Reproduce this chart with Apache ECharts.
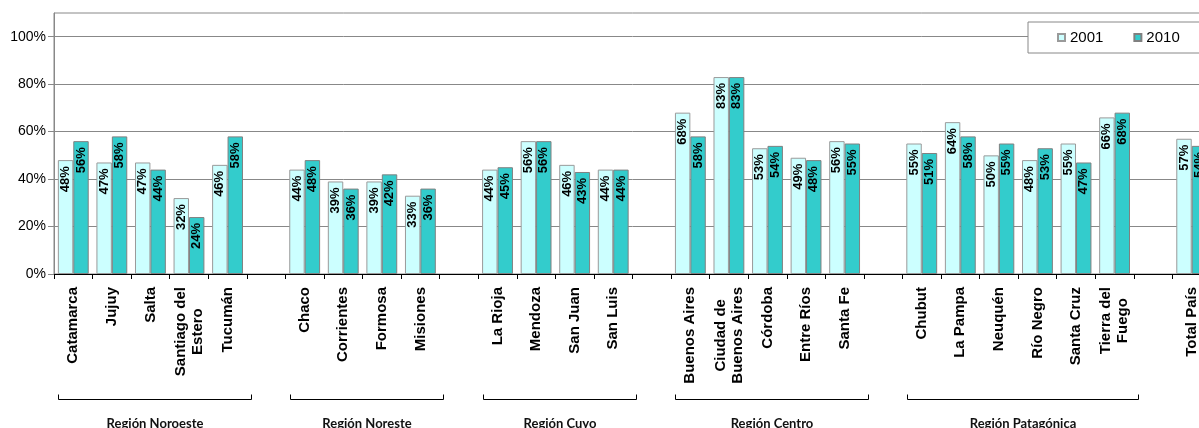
<!DOCTYPE html>
<html>
<head>
<meta charset="utf-8">
<script src="https://cdn.jsdelivr.net/npm/echarts@6/dist/echarts.min.js"></script>
<style>
  html, body { margin: 0; padding: 0; background: #fff; overflow: hidden; width: 1199px; height: 428px; }
  #chart { width: 1212px; height: 428px; }
</style>
</head>
<body>
<div id="chart"></div>
<script>
// Provinces grouped by region; empty strings leave a gap between regions.
const categories = [
  'Catamarca', 'Jujuy', 'Salta', 'Santiago del\nEstero', 'Tucumán', '',
  'Chaco', 'Corrientes', 'Formosa', 'Misiones', '',
  'La Rioja', 'Mendoza', 'San Juan', 'San Luis', '',
  'Buenos Aires', 'Ciudad de\nBuenos Aires', 'Córdoba', 'Entre Ríos', 'Santa Fe', '',
  'Chubut', 'La Pampa', 'Neuquén', 'Río Negro', 'Santa Cruz', 'Tierra del\nFuego', '',
  'Total País'
];

const values2001 = [
  48, 47, 47, 32, 46, null,
  44, 39, 39, 33, null,
  44, 56, 46, 44, null,
  68, 83, 53, 49, 56, null,
  55, 64, 50, 48, 55, 66, null,
  57
];

const values2010 = [
  56, 58, 44, 24, 58, null,
  48, 36, 42, 36, null,
  45, 56, 43, 44, null,
  58, 83, 54, 48, 55, null,
  51, 58, 55, 53, 47, 68, null,
  54
];

const seriesNames = ['2001', '2010'];
const yTicks = [0, 20, 40, 60, 80, 100];

// Region brackets below the axis: name, first and last province.
const regionNames = ['Región Noroeste', 'Región Noreste', 'Región Cuyo', 'Región Centro', 'Región Patagónica'];
const regionFirst = ['Catamarca', 'Chaco', 'La Rioja', 'Buenos Aires', 'Chubut'];
const regionLast = ['Tucumán', 'Misiones', 'San Luis', 'Santa Fe', 'Tierra del\nFuego'];

const FONT = '"Liberation Sans", Arial, sans-serif';
const chart = echarts.init(document.getElementById('chart'), null, { renderer: 'canvas' });

function barLabel() {
  return {
    show: true,
    position: 'insideTop',
    rotate: 90,
    align: 'right',
    verticalAlign: 'middle',
    distance: 6,
    formatter: p => p.value + '%',
    color: '#000',
    fontFamily: FONT,
    fontWeight: 'bold',
    fontSize: 13
  };
}

chart.setOption({
  animation: false,
  backgroundColor: '#fff',
  grid: {
    left: 54, top: 13, right: 1, height: 261,
    show: true, borderColor: '#888', borderWidth: 1, backgroundColor: '#fff'
  },
  legend: {
    data: seriesNames,
    left: 1028, top: 22,
    orient: 'horizontal',
    backgroundColor: '#fff',
    borderColor: '#888',
    borderWidth: 1,
    padding: [8, 24, 8, 29],
    itemWidth: 7, itemHeight: 7, itemGap: 30,
    icon: 'rect',
    textStyle: { fontFamily: FONT, fontSize: 15, color: '#000' }
  },
  xAxis: {
    type: 'category',
    data: categories,
    boundaryGap: true,
    axisLine: { lineStyle: { color: '#000', width: 1 } },
    axisTick: { show: true, interval: 0, length: 5, lineStyle: { color: '#000' } },
    axisLabel: {
      interval: 0,
      rotate: 90,
      margin: 13,
      color: '#000',
      fontFamily: FONT,
      fontWeight: 'bold',
      fontSize: 15,
      lineHeight: 17,
      formatter: v => v ? v.split('\n').map(s => '{c|' + s + '}').join('\n') : '',
      rich: {
        c: { align: 'center', fontFamily: FONT, fontWeight: 'bold', fontSize: 15, lineHeight: 17, color: '#000' }
      }
    },
    splitLine: { show: false }
  },
  yAxis: {
    type: 'value',
    min: 0, max: 110, interval: 20,
    axisLine: { show: true, lineStyle: { color: '#888' } },
    axisTick: { show: true, length: 6, lineStyle: { color: '#888' }, customValues: yTicks },
    axisLabel: {
      margin: 8,
      color: '#000',
      fontFamily: FONT,
      fontSize: 14,
      customValues: yTicks,
      formatter: v => v + '%'
    },
    splitLine: { show: true, lineStyle: { color: '#888', width: 1 } }
  },
  series: [
    {
      name: seriesNames[0],
      type: 'bar',
      data: values2001,
      barGap: '0%',
      barCategoryGap: '20%',
      itemStyle: { color: '#CCFFFF', borderColor: '#9a9a9a', borderWidth: 1 },
      label: barLabel()
    },
    {
      name: seriesNames[1],
      type: 'bar',
      data: values2010,
      barGap: '0%',
      barCategoryGap: '20%',
      itemStyle: { color: '#33CCCC', borderColor: '#808080', borderWidth: 1 },
      label: barLabel()
    }
  ]
});

// Region brackets and captions, placed from the category scale.
const graphics = [];
regionNames.forEach((name, i) => {
  const a = chart.convertToPixel({ xAxisIndex: 0 }, categories.indexOf(regionFirst[i]));
  const b = chart.convertToPixel({ xAxisIndex: 0 }, categories.indexOf(regionLast[i]));
  const x1 = Math.round(a - 15) + 0.5;
  const x2 = Math.round(b + 23) + 0.5;
  const yLine = 399.5, yTop = 394.5;
  graphics.push({
    type: 'polyline',
    silent: true,
    shape: { points: [[x1, yTop], [x1, yLine], [x2, yLine], [x2, yTop]] },
    style: { stroke: '#000', lineWidth: 1, fill: null }
  });
  graphics.push({
    type: 'text',
    silent: true,
    x: (x1 + x2) / 2,
    y: 424,
    style: {
      text: name,
      align: 'center',
      verticalAlign: 'middle',
      fontFamily: 'Lato, "Open Sans", sans-serif',
      fontSize: 13,
      fontWeight: 'bold',
      fill: '#111'
    }
  });
});
chart.setOption({ graphic: graphics });
</script>
</body>
</html>
